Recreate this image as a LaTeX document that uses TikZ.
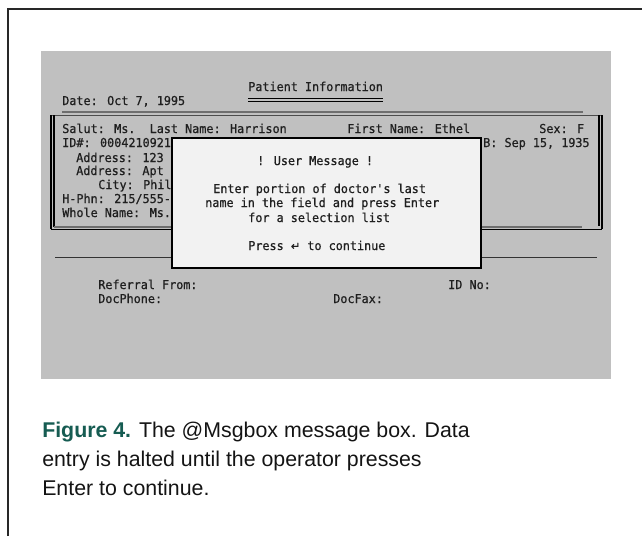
\documentclass[tikz,border=0pt]{standalone}
\usepackage{fontspec}
\setmainfont{Liberation Sans}
\newfontfamily\scrfont[FakeBold=0.7,FakeStretch=0.96]{DejaVu Sans Mono}
\newfontfamily\symfont[FakeBold=0.7]{DejaVu Sans}
\definecolor{screengray}{RGB}{192,192,192}
\definecolor{msgfill}{RGB}{242,242,242}
\definecolor{framecol}{RGB}{40,40,40}
\definecolor{figteal}{RGB}{22,92,82}
\definecolor{shadowgray}{RGB}{110,110,110}
\tikzset{
  scr/.style={font=\scrfont\fontsize{9.2}{10}\selectfont, anchor=base west, inner sep=0pt, text=black!88},
  capt/.style={font=\fontsize{16}{19}\selectfont, anchor=base west, inner sep=0pt, text=black!92},
  blackline/.style={draw=black, line width=0.9pt},
}
\begin{document}
\begin{tikzpicture}[x=0.75pt,y=-0.75pt]
\useasboundingbox (0,0) rectangle (642,536);
% outer frame (cut at right and bottom)
\draw[framecol, line width=1.1pt] (8,536) -- (8,9) -- (642,9);
% screen
\fill[screengray] (41,51) rectangle (611,379);
% title
\node[scr] (title) at (248,91) {Patient Information};
\draw[black, line width=0.6pt] (248,98) -- (383,98);
\draw[black, line width=0.6pt] (248,101) -- (383,101);
\node[scr] (date) at (62,105) {Date: Oct 7, 1995};
% separator
\draw[shadowgray, line width=1.4pt] (62,112) -- (583,112);
% data box
\draw[black!70, line width=0.5pt] (51,115) -- (602,115);
\draw[blackline] (51,115) -- (51,229);
\draw[blackline] (54,115) -- (54,227);
\draw[blackline] (599,115) -- (599,226);
\draw[blackline] (602,115) -- (602,229);
\draw[shadowgray, line width=1.5pt] (54,227) -- (582,227);
\draw[black, line width=0.7pt] (51,229) -- (602,229);
\node[scr] (salut) at (62,133) {Salut: Ms.\ \ Last Name: Harrison};
\node[scr] (first) at (347,133) {First Name: Ethel};
\node[scr] (sex) at (539,133) {Sex: F};
\node[scr] (id) at (62,147) {ID\#: 0004210921};
\node[scr] (dob) at (483,147) {B: Sep 15, 1935};
\node[scr] (addr1) at (76,162) {Address: 123 U};
\node[scr] (addr2) at (76,175) {Address: Apt 2};
\node[scr] (city) at (98,189) {City: Phila};
\node[scr] (phn) at (62,203) {H-Phn: 215/555-3};
\node[scr] (whole) at (62,217) {Whole Name: Ms.};
% line below box
\draw[black!80, line width=0.6pt] (55,257) -- (597,257);
% message box
\draw[fill=msgfill, draw=black, line width=1.4pt] (172,138) rectangle (481,268);
\node[scr] (um) at (257,165) {! User Message !};
\node[scr] (m1) at (213,193) {Enter portion of doctor's last};
\node[scr] (m2) at (205,207) {name in the field and press Enter};
\node[scr] (m3) at (248,222) {for a selection list};
\node[scr] (m4) at (248,250) {Press {\symfont\fontsize{8.5}{9}\selectfont ↵} to continue};
% lower fields
\node[scr] (ref) at (98,289) {Referral From:};
\node[scr] (idno) at (448,289) {ID No:};
\node[scr] (docph) at (98,303) {DocPhone:};
\node[scr] (docfax) at (333,303) {DocFax:};
% caption
\node[capt] (cap1) at (42,437) {\textcolor{figteal}{\textbf{Figure 4.}} The @Msgbox message box. Data};
\node[capt] (cap2) at (42,466) {entry is halted until the operator presses};
\node[capt] (cap3) at (42,495) {Enter to continue.};
\end{tikzpicture}
\end{document}
